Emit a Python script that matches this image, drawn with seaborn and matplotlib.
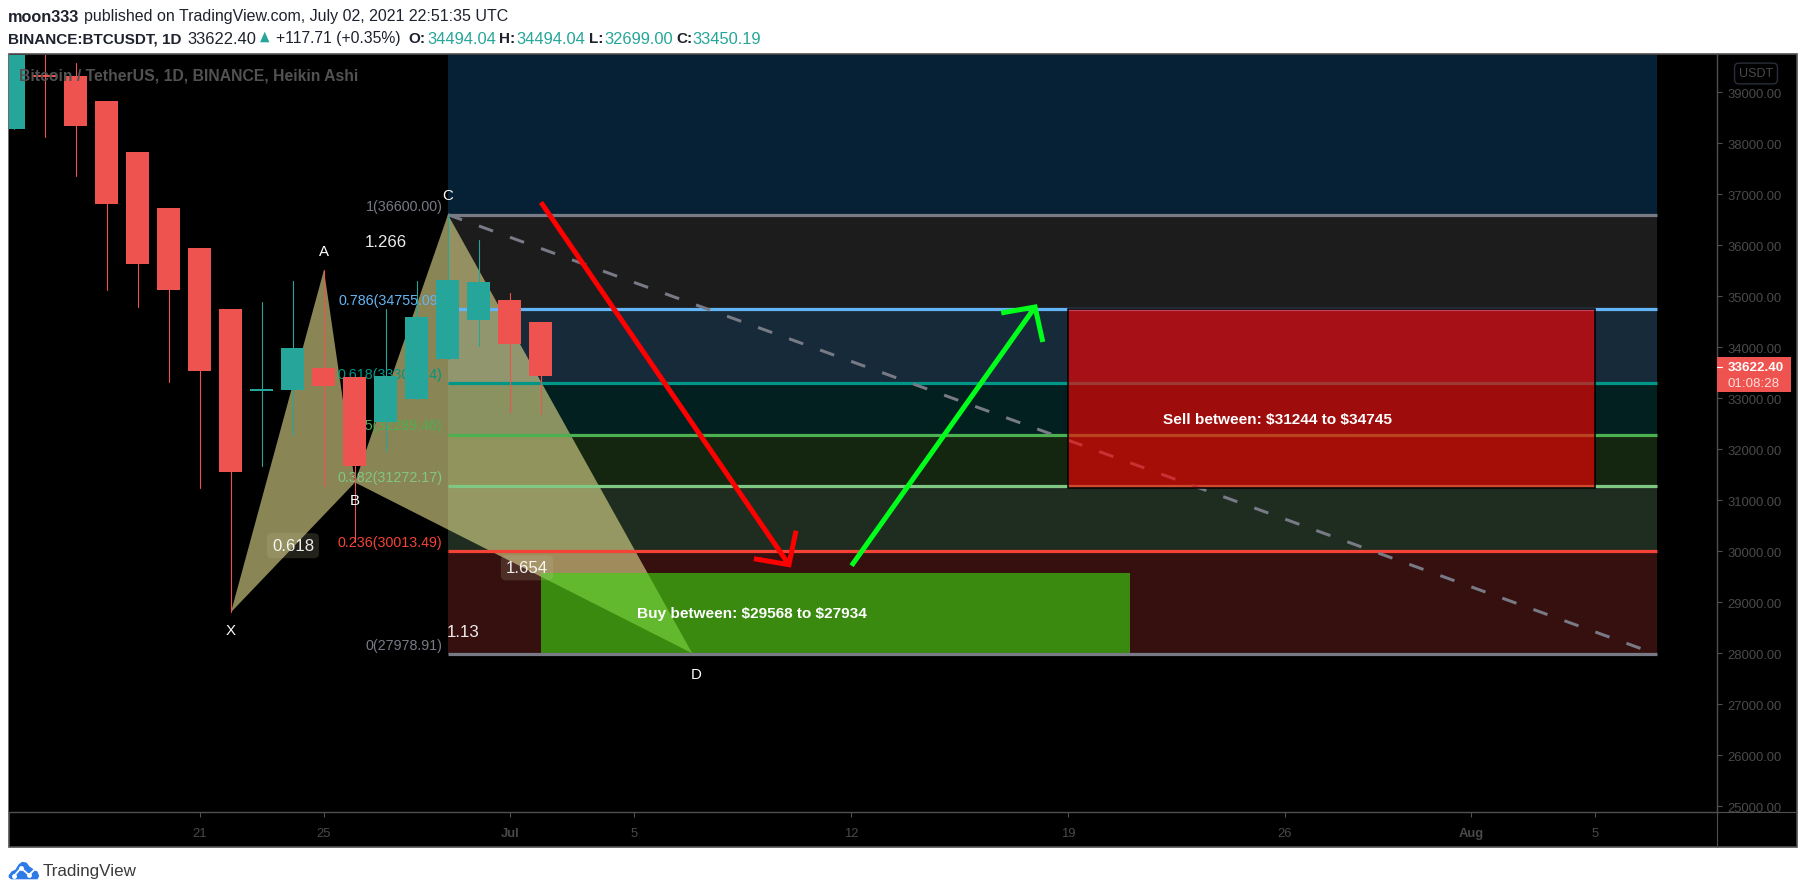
import matplotlib
matplotlib.use("Agg")
import matplotlib.pyplot as plt
import pandas as pd
import seaborn as sns
from matplotlib.colors import to_rgba
from matplotlib.patches import FancyBboxPatch, Polygon, Rectangle
from matplotlib.transforms import Bbox

W, H = 1805, 895

# candles, days counted from Jul 1 (Jun 15 .. Jul 2)
days = [-16, -15, -14, -13, -12, -11, -10, -9, -8, -7, -6, -5, -4, -3, -2, -1, 0, 1]
opens = [38280, 39330, 39313, 38829, 37829, 36731, 35947, 34751, 33150, 33170, 33594, 33418, 32535, 32993, 33777, 34542, 34921, 34496]
closes = [40300, 39295, 38339, 36810, 35633, 35123, 33535, 31561, 33190, 33986, 33241, 31672, 33437, 34594, 35313, 35273, 34065, 33437]
highs = [40300, 40000, 39575, 38829, 37829, 36731, 35947, 34751, 34888, 35293, 35515, 33418, 34751, 35293, 36594, 36104, 35065, 34496]
lows = [38280, 38124, 37365, 35123, 34797, 33326, 31241, 28804, 31680, 32287, 31280, 30180, 31973, 32993, 33777, 34019, 32725, 32692]

# fib retracement
fib_ratios = ["1", "0.786", "0.618", "0.5", "0.382", "0.236", "0"]
fib_prices = [36600.00, 34755.09, 33306.74, 32289.46, 31272.17, 30013.49, 27978.91]
fib_colors = ["#787b86", "#64b5f6", "#009688", "#4caf50", "#81c784", "#f44336", "#787b86"]
band_colors = ["#1c1c1d", "#172a3a", "#02201f", "#142510", "#1f2d20", "#35100f"]
top_band_color = "#062135"
fib_start, fib_end = -2, 37

# XABCD pattern
pattern_names = ["X", "A", "B", "C", "D"]
pattern_x = [-9, -6, -5, -2, 5.88]
pattern_y = [28804, 35515, 31350, 36600, 28000]
name_x = [-9, -6, -5, -2, 6]
name_y = [28463, 35894, 31012, 36992, 27600]

ratio_text = ["1.266", "0.618", "1.654", "1.13"]
ratio_x = [-4, -7, 0.55, -1.5]
ratio_y = [36067, 30110, 29676, 28420]
ratio_boxed = [False, True, True, False]

# arrows: start, tip, two barbs
red_x = [1.0, 9.0, 9.23, 9.0, 7.87]
red_y = [36843, 29737, 30404, 29737, 29855]
green_x = [11.02, 16.94, 15.85, 16.94, 17.19]
green_y = [29718, 34790, 34673, 34790, 34104]

xtick_pos = [-10, -6, 0, 4, 11, 18, 25, 31, 35]
xtick_lab = ["21", "25", "Jul", "5", "12", "19", "26", "Aug", "5"]
ytick_pos = [25000, 26000, 27000, 28000, 29000, 30000, 31000, 32000, 33000, 34000, 35000, 36000, 37000, 38000, 39000]

sns.set_theme(style="dark", rc={"lines.scale_dashes": False, "axes.facecolor": "black"})
plt.rcParams["font.family"] = ["Liberation Sans", "DejaVu Sans"]

GREY = "#4a4a4a"
FRAME = "#505050"
TEAL = "#26a69a"
RED = "#ef5350"


def fx(x):
    return x / W


def fy(y):
    return 1 - y / H


def pts(px):
    return px * 0.72


fig = plt.figure(figsize=(W / 100, H / 100), dpi=100, facecolor="white")

# black panel behind chart, price and time scales
fig.patches.append(Rectangle((fx(8.5), fy(848)), fx(1797 - 8.5), 793 / H, transform=fig.transFigure,
                             facecolor="black", edgecolor=FRAME, lw=1.2, zorder=0))

ax = fig.add_axes([fx(8.7), fy(813), fx(1716.7 - 8.7), 757 / H], facecolor="black", zorder=1)

# fib bands and levels
edges = [39731] + fib_prices
for i, c in enumerate([top_band_color] + band_colors):
    ax.fill_between([fib_start, fib_end], edges[i + 1], edges[i], color=c, lw=0, zorder=1)
levels = pd.DataFrame({"x0": fib_start, "x1": fib_end, "y": fib_prices, "ratio": fib_ratios})
for i, row in levels.iterrows():
    # zero line sits above the buy box
    ax.plot([row.x0, row.x1], [row.y, row.y], color=fib_colors[i], lw=pts(3.2),
            solid_capstyle="butt", zorder=6 if row.ratio == "0" else 3.2)
    ax.annotate(f"{row.ratio}({row.y:.2f})", (fib_start, row.y), xytext=(-3.8, 1.5), textcoords="offset points",
                ha="right", va="bottom", color=fib_colors[i], fontsize=pts(14.2), zorder=3.5)

# dashed trend of the fib
ax.plot([fib_start, fib_end], [fib_prices[0], fib_prices[-1]], color="#787b86", lw=pts(3),
        ls=(0, (pts(15), pts(18))), zorder=3.3)

# harmonic pattern
for a, b, c in [(0, 1, 2), (2, 3, 4)]:
    ax.fill([pattern_x[a], pattern_x[b], pattern_x[c]], [pattern_y[a], pattern_y[b], pattern_y[c]],
            facecolor=(0.93, 0.9, 0.58, 0.58), lw=0, zorder=3)

# wicks through seaborn, bodies as bars
wicks = pd.DataFrame({
    "day": days + days,
    "price": highs + lows,
    "candle": list(range(len(days))) * 2,
    "side": ["up" if c > o else "down" for o, c in zip(opens, closes)] * 2,
})
sns.lineplot(data=wicks, x="day", y="price", units="candle", estimator=None, hue="side",
             palette={"up": TEAL, "down": RED}, lw=pts(1.1), legend=False, ax=ax, zorder=4)
body_colors = [TEAL if c > o else RED for o, c in zip(opens, closes)]
ax.bar(days, [abs(c - o) for o, c in zip(opens, closes)], bottom=[min(o, c) for o, c in zip(opens, closes)],
       width=0.74, color=body_colors, lw=0, zorder=4.2)

# buy and sell boxes
ax.add_patch(Rectangle((1, 27978.91), 20 - 1, 29568 - 27978.91, facecolor=to_rgba("#3dd610", 0.62), lw=0, zorder=5))
ax.add_patch(Rectangle((18, 31244), 35 - 18, 34745 - 31244, facecolor=to_rgba("#ff0000", 0.62),
                       edgecolor="black", lw=pts(1.5), zorder=5))
ax.text(7.8, 28790, r"Buy between: \$29568 to \$27934", color="white", fontsize=pts(15.4), fontweight="bold",
        ha="center", va="center", zorder=7)
ax.text(24.77, 32590, r"Sell between: \$31244 to \$34745", color="white", fontsize=pts(15.4), fontweight="bold",
        ha="center", va="center", zorder=7)

# hand drawn arrows
ax.plot(red_x[:2], red_y[:2], color="#ff0000", lw=pts(5), solid_capstyle="butt", zorder=5.5)
ax.plot(red_x[2:], red_y[2:], color="#ff0000", lw=pts(5), solid_capstyle="butt", solid_joinstyle="miter", zorder=5.5)
ax.plot(green_x[:2], green_y[:2], color="#00ff1a", lw=pts(5), solid_capstyle="butt", zorder=5.5)
ax.plot(green_x[2:], green_y[2:], color="#00ff1a", lw=pts(5), solid_capstyle="butt", solid_joinstyle="miter", zorder=5.5)

for n, x, y in zip(pattern_names, name_x, name_y):
    ax.text(x, y, n, color="white", fontsize=pts(15), ha="center", va="center", zorder=7)
for t, x, y, boxed in zip(ratio_text, ratio_x, ratio_y, ratio_boxed):
    box = dict(boxstyle="round,pad=0.3", facecolor=(0.8, 0.8, 0.65, 0.17), edgecolor="none") if boxed else None
    ax.text(x, y, t, color="white", alpha=0.92, fontsize=pts(16.8), ha="center", va="center", zorder=7, bbox=box)

ax.text(0.0062, 0.973, "Bitcoin / TetherUS, 1D, BINANCE, Heikin Ashi", transform=ax.transAxes, color="#525252",
        fontsize=pts(15.7), fontweight="bold", va="center", zorder=8)

# scales
ax.set_xlim(-16.17, 38.93)
ax.set_ylim(24888, 39731)
ax.set_xlabel("")
ax.set_ylabel("")
ax.set_xticks(xtick_pos)
ax.set_xticklabels(xtick_lab)
ax.set_yticks(ytick_pos)
ax.set_yticklabels([f"{v:.2f}" for v in ytick_pos])
ax.yaxis.tick_right()
ax.grid(False)
ax.tick_params(axis="x", colors=FRAME, length=pts(5), width=0.8, labelsize=pts(13), labelcolor=GREY, pad=pts(10), bottom=True)
ax.tick_params(axis="y", colors=FRAME, length=pts(5), width=0.8, labelsize=pts(13), labelcolor=GREY, pad=pts(6), right=True, left=False)
for lab in ax.get_xticklabels():
    if lab.get_text() in ("Jul", "Aug"):
        lab.set_fontweight("bold")
for side in ("top", "left"):
    ax.spines[side].set_visible(False)
for side in ("bottom", "right"):
    ax.spines[side].set_color(FRAME)
    ax.spines[side].set_linewidth(1)

# time scale line and price scale line carry on to the frame
fig.add_artist(plt.Line2D([fx(1716.7), fx(1797)], [fy(813), fy(813)], color=FRAME, lw=0.8))
fig.add_artist(plt.Line2D([fx(1716.7), fx(1716.7)], [fy(813), fy(848)], color=FRAME, lw=0.8))
nine = fig.text(fx(1719), fy(830), "9", color=GREY, fontsize=pts(13), ha="center", va="center")
nine.set_clip_box(Bbox([[0, 0], [1716, H]]))
nine.set_clip_on(True)

# price tag
fig.patches.append(FancyBboxPatch((fx(1716.7), fy(392.7)), fx(1791 - 1716.7), 34.7 / H, boxstyle="square,pad=0",
                                  transform=fig.transFigure, facecolor=RED, edgecolor="none", zorder=3))
fig.add_artist(plt.Line2D([fx(1716.7), fx(1721.7)], [fy(367.5), fy(367.5)], color="white", lw=0.8, zorder=4))
fig.text(fx(1728), fy(368), "33622.40", color="white", fontsize=pts(13.4), fontweight="bold", va="center", zorder=4)
fig.text(fx(1728), fy(384), "01:08:28", color="#ffdedc", fontsize=pts(13.4), va="center", zorder=4)
fig.text(fx(1756), fy(74.5), "USDT", color=GREY, fontsize=pts(12.5), ha="center", va="center", zorder=4,
         bbox=dict(boxstyle="round,pad=0.35", facecolor="black", edgecolor="#2a2e39", lw=1))

# header
INK = "#1e222d"
fig.text(fx(8), fy(17), "moon333", color=INK, fontsize=pts(16.3), fontweight="bold", va="center")
fig.text(fx(84), fy(17), "published on TradingView.com, July 02, 2021 22:51:35 UTC", color=INK, fontsize=pts(16), va="center")
header = [
    ("BINANCE:BTCUSDT, 1D", 8, INK, "bold", 15.3), ("33622.40", 187, INK, "normal", 16.5),
    ("+117.71 (+0.35%)", 276, INK, "normal", 15.8), ("O:", 408, INK, "bold", 15.3), ("34494.04", 427, TEAL, "normal", 16.5),
    ("H:", 499, INK, "bold", 15.3), ("34494.04", 516, TEAL, "normal", 16.5), ("L:", 589, INK, "bold", 15.3),
    ("32699.00", 604, TEAL, "normal", 16.5), ("C:", 676, INK, "bold", 15.3), ("33450.19", 692, TEAL, "normal", 16.5),
]
for txt, x, col, weight, size in header:
    fig.text(fx(x), fy(39), txt, color=col, fontsize=pts(size), fontweight=weight, va="center")
fig.patches.append(Polygon([(fx(259), fy(44)), (fx(270.5), fy(44)), (fx(264.7), fy(31))], transform=fig.transFigure, facecolor=TEAL))

# footer logo
BLUE = "#2e7be8"
cloud = [(8, 876), (11, 872), (15, 870), (18, 865), (22, 862), (27, 863), (30, 867), (33, 869), (38, 872), (40, 877), (38, 881), (11, 881), (8, 879)]
fig.patches.append(Polygon([(fx(a), fy(b)) for a, b in cloud], closed=True, transform=fig.transFigure, facecolor=BLUE))
fig.add_artist(plt.Line2D([fx(a) for a in (14, 21, 29, 36)], [fy(b) for b in (877, 869, 876, 869)], color="white", lw=1.3,
                          marker="o", ms=2.5))
fig.text(fx(43), fy(871.5), "TradingView", color="#3a3a3a", fontsize=pts(17), va="center")

fig.savefig("out.png", dpi=100, facecolor="white")
